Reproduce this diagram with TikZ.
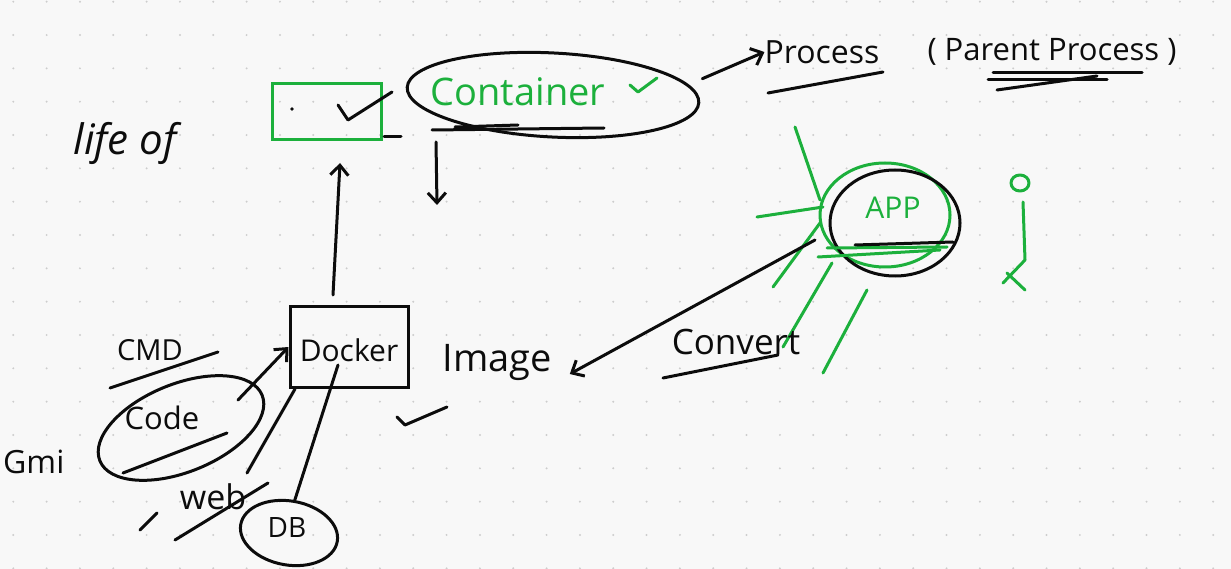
\documentclass[tikz,border=0pt]{standalone}
\usepackage{fontspec}
\setmainfont{Open Sans}
\usetikzlibrary{shapes.geometric,arrows.meta}
\definecolor{pen}{RGB}{12,12,12}
\definecolor{grn}{RGB}{28,176,60}
\definecolor{paper}{RGB}{248,248,248}
\definecolor{dotc}{RGB}{205,205,205}
\tikzset{
  ink/.style={draw=pen,line width=3pt,line cap=round,line join=round},
  gink/.style={draw=grn,line width=3pt,line cap=round,line join=round},
  arr/.style={ink,-{Straight Barb[length=10pt,width=18pt,line width=3pt]}},
  txt/.style={text=pen,inner sep=0pt},
  gtxt/.style={text=grn,inner sep=0pt},
}
\begin{document}
\begin{tikzpicture}[x=1pt,y=-1pt]
\fill[paper] (0,0) rectangle (1231,569);
\useasboundingbox (0,0) rectangle (1231,569);
\foreach \i in {0,...,36} \foreach \j in {0,...,17}
  \fill[dotc] ({13.3+33.33*\i},{1.7+33.33*\j}) circle (1.1);
% life of
\node[txt,font=\fontsize{42}{46}\selectfont\itshape] (life) at (125,143) {life of};
% green box with check
\node[draw=grn,line width=3pt,minimum width=109,minimum height=56,inner sep=0pt] (gbox) at (327,112) {};
\fill[pen] (292,109) circle (1.8);
\draw[ink] (338,105) -- (348,120) -- (392,92);
\draw[ink] (384,137) -- (401,137);
% container
\node[ellipse,draw=pen,line width=3pt,minimum width=292,minimum height=84,rotate=-3] (contell) at (553,95) {};
\node[gtxt,font=\fontsize{38}{42}\selectfont] (cont) at (518,92) {Container};
\draw[gink] (630,85) -- (638,92) -- (657,78);
\draw[ink] (455,127) -- (518,125);
\draw[ink] (432,130) -- (604,128);
% process
\node[txt,font=\fontsize{32}{36}\selectfont] (proc) at (822,52) {Process};
\draw[arr] (contell.east) ++(2,-24) coordinate (pa) -- (proc.west);
\draw[ink] (768,93) -- (883,72);
\node[txt,font=\fontsize{31}{35}\selectfont] (parent) at (1052,52) {( Parent Process )};
\draw[ink] (993,73) -- (1142,73);
\draw[ink] (988,80) -- (1107,80);
\draw[ink] (997,90) -- (1097,76);
% down arrow
\coordinate (dtop) at (436,142);
\coordinate (dbot) at (437,205);
\draw[arr] (dtop) -- (dbot);
% docker
\node[draw=pen,line width=3pt,minimum width=118,minimum height=81,inner sep=0pt] (docker) at (349,347) {};
\node[txt,font=\fontsize{30}{34}\selectfont] (dockt) at (349,350) {Docker};
\draw[arr] (docker.north) ++(-16,-10) coordinate (ua) -- (340,163) coordinate (ub);
% image
\node[txt,font=\fontsize{38}{42}\selectfont] (img) at (497,362) {Image};
\draw[ink] (397,417) -- (405,425) -- (447,407);
% app
\node[ellipse,draw=grn,line width=3pt,minimum width=130,minimum height=104] (appg) at (885,215) {};
\node[ellipse,draw=pen,line width=3pt,minimum width=130,minimum height=106] (appb) at (895,223) {};
\node[gtxt,font=\fontsize{30}{34}\selectfont] (app) at (893,208) {APP};
\draw[gink] (827,248) -- (947,247);
\draw[gink] (818,257) -- (940,250);
\draw[ink] (855,245) -- (953,242);
\draw[gink] (795,127) -- (820,200);
\draw[gink] (757,217) -- (823,207);
\draw[gink] (773,287) -- (820,223);
\draw[gink] (783,347) -- (832,263);
\draw[gink] (823,373) -- (867,290);
% convert arrow
\coordinate (cvs) at (815,240);
\draw[arr] (cvs) -- ([xshift=18pt,yshift=-12pt]img.east);
\node[txt,font=\fontsize{35}{39}\selectfont] (conv) at (736,342) {Convert};
\draw[ink] (663,378) -- (778,355);
% stick figure
\draw[gink] (1020,183) ellipse (9 and 8);
\draw[gink] (1023,202) -- (1025,260) -- (1003,283);
\draw[gink] (1007,273) -- (1025,290);
% CMD
\node[txt,font=\fontsize{29}{33}\selectfont] (cmd) at (150,350) {CMD};
\draw[ink] (110,388) -- (218,352);
% code
\node[ellipse,draw=pen,line width=3pt,minimum width=175,minimum height=88,rotate=22] (codeell) at (181,428) {};
\node[txt,font=\fontsize{31}{35}\selectfont] (code) at (162,418) {Code};
\draw[ink] (123,473) -- (227,433);
\draw[arr] (238,400) -- (docker.west);
% Gmi
\node[txt,font=\fontsize{32}{36}\selectfont,anchor=west] (gmi) at (3,462) {Gmi};
% web
\draw[ink] (140,530) -- (157,513);
\node[txt,font=\fontsize{34}{38}\selectfont] (web) at (213,497) {web};
\draw[ink] (175,540) -- (268,483);
\draw[ink] ([xshift=-54pt]docker.south) -- (247,473);
% DB
\node[ellipse,draw=pen,line width=3pt,minimum width=98,minimum height=64,rotate=-10] (dbell) at (289,533) {};
\node[txt,font=\fontsize{28}{32}\selectfont] (db) at (287,528) {DB};
\draw[ink] ([xshift=-11pt,yshift=24pt]docker.south) -- (dbell.north);
\end{tikzpicture}
\end{document}
